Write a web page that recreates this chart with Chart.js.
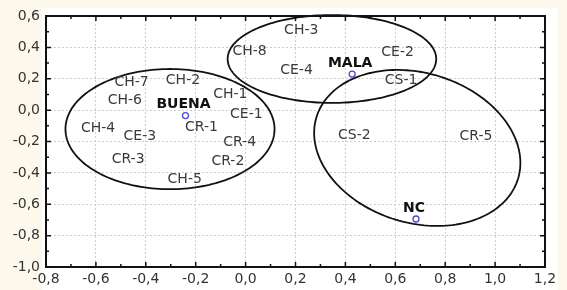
<!DOCTYPE html>
<html><head><meta charset="utf-8">
<script src="https://cdn.jsdelivr.net/npm/chart.js@4.4.1/dist/chart.umd.min.js"></script>
<style>html,body{margin:0;padding:0;background:#fcf8ec;}#wrap{width:567px;height:290px;position:relative;}</style>
</head><body><div id="wrap"><canvas id="c"></canvas></div>
<script>
const sampleNames = ['CH-3','CH-8','CE-4','CE-2','CS-1','CS-2','CR-5','CH-7','CH-2','CH-6','CH-1','CE-1','CH-4','CE-3','CR-1','CR-4','CR-3','CR-2','CH-5'];
const sampleX = [0.223, 0.016, 0.204, 0.609, 0.623, 0.436, 0.923, -0.457, -0.251, -0.484, -0.061, 0.003, -0.591, -0.424, -0.177, -0.024, -0.471, -0.071, -0.244];
const sampleY = [0.506, 0.372, 0.256, 0.366, 0.192, -0.158, -0.169, 0.175, 0.192, 0.065, 0.101, -0.027, -0.116, -0.165, -0.112, -0.207, -0.313, -0.329, -0.441];
const groupNames = ['BUENA','MALA','NC'];
const groupX = [-0.241, 0.427, 0.683];
const groupY = [-0.035, 0.230, -0.694];
const ellipseCx = [-0.303, 0.346, 0.688];
const ellipseCy = [-0.121, 0.326, -0.241];
const ellipseUx = [0.419, 0.418, 0.404];
const ellipseUy = [0, 0, -0.196];
const ellipseVx = [0, 0, -0.087];
const ellipseVy = [0.383, 0.280, -0.457];
const xTickLabels = ['-0,8','-0,6','-0,4','-0,2','0,0','0,2','0,4','0,6','0,8','1,0','1,2'];
const yTickLabels = ['-1,0','-0,8','-0,6','-0,4','-0,2','0,0','0,2','0,4','0,6'];

const FONT = "'DejaVu Sans', sans-serif";

const decor = {
  id: 'decor',
  beforeDraw(chart) {
    const ctx = chart.ctx, a = chart.chartArea;
    ctx.save();
    ctx.fillStyle = '#fcf8ec';
    ctx.fillRect(0, 0, chart.width, chart.height);
    ctx.fillStyle = '#ffffff';
    ctx.fillRect(42, 8, 516, 282);
    ctx.restore();
  },
  afterDatasetsDraw(chart) {
    const ctx = chart.ctx, a = chart.chartArea;
    const xs = chart.scales.x, ys = chart.scales.y;
    ctx.save();
    // ellipses
    ctx.strokeStyle = '#111';
    ctx.lineWidth = 1.8;
    for (let e = 0; e < ellipseCx.length; e++) {
      ctx.beginPath();
      for (let k = 0; k <= 180; k++) {
        const t = k / 180 * Math.PI * 2;
        const dx = ellipseCx[e] + ellipseUx[e] * Math.cos(t) + ellipseVx[e] * Math.sin(t);
        const dy = ellipseCy[e] + ellipseUy[e] * Math.cos(t) + ellipseVy[e] * Math.sin(t);
        const px = xs.getPixelForValue(dx), py = ys.getPixelForValue(dy);
        if (k === 0) ctx.moveTo(px, py); else ctx.lineTo(px, py);
      }
      ctx.closePath();
      ctx.stroke();
    }
    // sample labels
    ctx.textAlign = 'center';
    ctx.textBaseline = 'middle';
    ctx.font = '14px ' + FONT;
    ctx.fillStyle = '#3a3a3a';
    for (let i = 0; i < sampleNames.length; i++) {
      ctx.fillText(sampleNames[i], xs.getPixelForValue(sampleX[i]), ys.getPixelForValue(sampleY[i]));
    }
    ctx.font = 'bold 14px ' + FONT;
    ctx.fillStyle = '#111';
    for (let i = 0; i < groupNames.length; i++) {
      ctx.fillText(groupNames[i], xs.getPixelForValue(groupX[i]) - 2, ys.getPixelForValue(groupY[i]) - 11);
    }
    // frame
    ctx.strokeStyle = '#111';
    ctx.lineWidth = 2;
    ctx.strokeRect(a.left, a.top, a.right - a.left, a.bottom - a.top);
    // inward ticks
    ctx.lineWidth = 1.5;
    ctx.beginPath();
    const nx = Math.round((xs.max - xs.min) / 0.1);
    for (let i = 0; i <= nx; i++) {
      const px = xs.getPixelForValue(xs.min + i * 0.1);
      const L = i % 2 === 0 ? 5 : 3;
      ctx.moveTo(px, a.bottom); ctx.lineTo(px, a.bottom - L);
      ctx.moveTo(px, a.top); ctx.lineTo(px, a.top + L);
    }
    const ny = Math.round((ys.max - ys.min) / 0.1);
    for (let i = 0; i <= ny; i++) {
      const py = ys.getPixelForValue(ys.min + i * 0.1);
      const L = i % 2 === 0 ? 5 : 3;
      ctx.moveTo(a.left, py); ctx.lineTo(a.left + L, py);
      ctx.moveTo(a.right, py); ctx.lineTo(a.right - L, py);
    }
    ctx.stroke();
    ctx.restore();
  }
};

new Chart(document.getElementById('c'), {
  type: 'scatter',
  data: {
    datasets: [{
      data: groupX.map((x, i) => ({x: x, y: groupY[i]})),
      pointRadius: 3,
      pointBorderColor: '#4a4ad8',
      pointBackgroundColor: 'rgba(0,0,0,0)',
      pointBorderWidth: 1.3
    }]
  },
  options: {
    responsive: true,
    maintainAspectRatio: false,
    animation: false,
    events: [],
    layout: {padding: {left: 0, top: 16, right: 22, bottom: 0}},
    plugins: {legend: {display: false}, tooltip: {enabled: false}},
    scales: {
      x: {
        type: 'linear', min: -0.8, max: 1.2,
        afterFit(s) { s.height = 23; },
        afterBuildTicks(s) { s.ticks = xTickLabels.map((t, i) => ({value: -0.8 + i * 0.2})); },
        ticks: {
          callback: (v, i) => xTickLabels[i],
          font: {family: FONT, size: 14}, color: '#333', padding: 4, maxRotation: 0, autoSkip: false
        },
        grid: {color: '#cfcfcf', lineWidth: 1, drawTicks: false},
        border: {display: false, dash: [2, 2]}
      },
      y: {
        type: 'linear', min: -1.0, max: 0.6,
        afterFit(s) { s.width = 46; },
        afterBuildTicks(s) { s.ticks = yTickLabels.map((t, i) => ({value: -1.0 + i * 0.2})); },
        ticks: {
          callback: (v, i) => yTickLabels[i],
          font: {family: FONT, size: 14}, color: '#333', padding: 6, autoSkip: false
        },
        grid: {color: '#cfcfcf', lineWidth: 1, drawTicks: false},
        border: {display: false, dash: [2, 2]}
      }
    }
  },
  plugins: [decor]
});
</script>
</body></html>
